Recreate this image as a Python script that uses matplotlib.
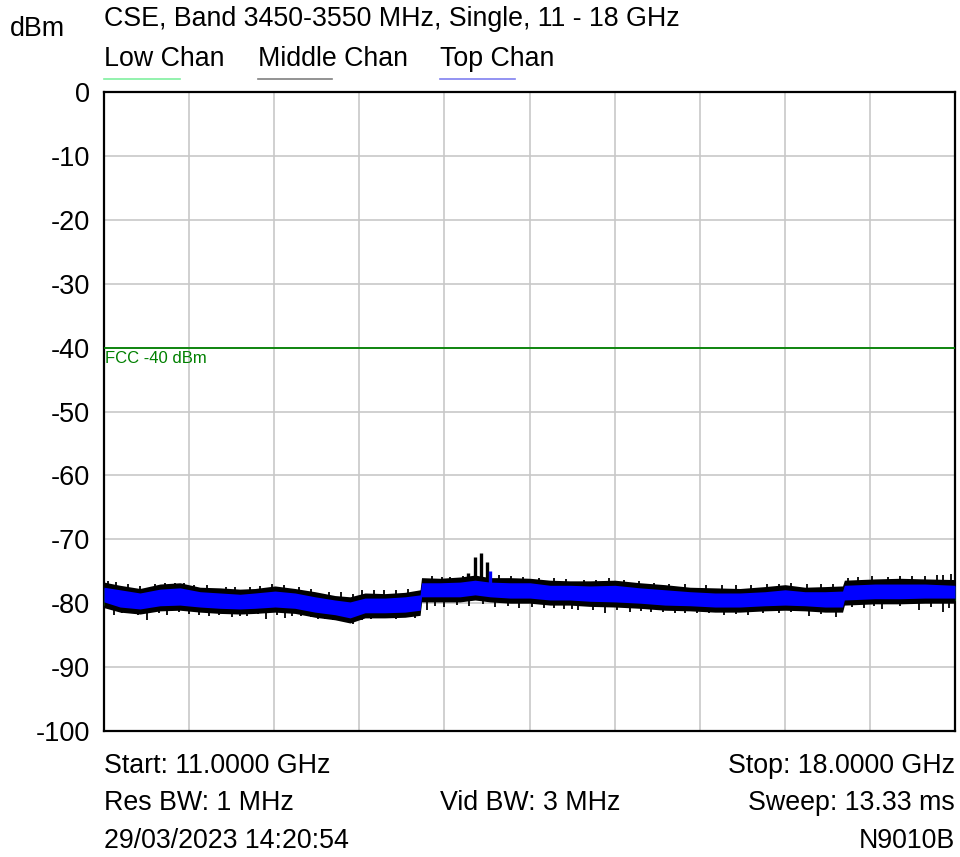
import matplotlib
matplotlib.use('Agg')
import matplotlib.pyplot as plt

plt.rcParams['font.family'] = ['Liberation Sans', 'DejaVu Sans']

# frequency points (GHz)
freq = [11.000, 11.132, 11.296, 11.461, 11.625, 11.790, 11.954, 12.119, 12.242,
        12.407, 12.571, 12.736, 12.900, 13.024, 13.147, 13.311, 13.476, 13.600,
        13.612, 13.764, 13.928, 14.052, 14.175, 14.340, 14.504, 14.669, 14.833,
        14.998, 15.203, 15.409, 15.615, 15.820, 16.026, 16.231, 16.437, 16.602,
        16.766, 16.931, 17.075, 17.090, 17.342, 17.548, 17.753, 18.000]

# Top Chan (blue) band, upper / lower edge in dBm
top_hi = [-77.5, -77.9, -78.4, -77.8, -77.6, -78.2, -78.4, -78.6, -78.4,
          -78.1, -78.4, -79.0, -79.5, -79.8, -79.2, -79.2, -79.0, -78.7,
          -76.8, -76.8, -76.7, -76.4, -76.7, -76.8, -76.8, -77.2, -77.2,
          -77.3, -77.2, -77.6, -77.9, -78.2, -78.4, -78.4, -78.2, -77.9,
          -78.2, -78.2, -78.1, -77.2, -77.0, -77.0, -77.0, -77.2]
top_lo = [-79.8, -80.6, -80.9, -80.4, -80.3, -80.6, -80.8, -80.9, -80.8,
          -80.6, -80.8, -81.4, -81.8, -82.3, -81.5, -81.5, -81.4, -81.1,
          -79.0, -79.0, -79.0, -78.7, -79.0, -79.2, -79.2, -79.5, -79.5,
          -79.7, -79.8, -80.0, -80.3, -80.4, -80.6, -80.6, -80.4, -80.3,
          -80.4, -80.6, -80.6, -79.5, -79.3, -79.3, -79.2, -79.2]

# Middle Chan (black) band, upper / lower edge in dBm
mid_hi = [-76.7, -77.2, -77.7, -77.0, -76.8, -77.5, -77.6, -77.8, -77.7,
          -77.3, -77.7, -78.2, -78.8, -79.0, -78.4, -78.5, -78.3, -77.9,
          -76.0, -76.1, -75.9, -75.6, -76.0, -76.0, -76.1, -76.4, -76.5,
          -76.5, -76.4, -76.8, -77.1, -77.5, -77.6, -77.7, -77.4, -77.1,
          -77.5, -77.4, -77.3, -76.4, -76.2, -76.1, -76.2, -76.3]
mid_lo = [-80.7, -81.4, -81.7, -81.2, -81.1, -81.4, -81.6, -81.7, -81.6,
          -81.4, -81.6, -82.2, -82.6, -83.1, -82.3, -82.3, -82.2, -81.9,
          -79.8, -79.8, -79.8, -79.5, -79.8, -80.0, -80.0, -80.3, -80.3,
          -80.5, -80.6, -80.8, -81.1, -81.2, -81.4, -81.4, -81.2, -81.1,
          -81.2, -81.4, -81.4, -80.3, -80.1, -80.1, -80.0, -80.0]

# Low Chan (green), mostly hidden under the others
low_hi = [-77.7, -78.1, -78.6, -78.0, -77.8, -78.4, -78.6, -78.8, -78.6,
          -78.3, -78.6, -79.2, -79.7, -80.0, -79.4, -79.4, -79.2, -78.9,
          -77.0, -77.0, -76.9, -76.6, -76.9, -77.0, -77.0, -77.4, -77.4,
          -77.5, -77.4, -77.8, -78.1, -78.4, -78.6, -78.6, -78.4, -78.1,
          -78.4, -78.4, -78.3, -77.4, -77.2, -77.2, -77.2, -77.4]
low_lo = [-80.3, -81.0, -81.3, -80.8, -80.7, -81.0, -81.2, -81.3, -81.2,
          -81.0, -81.2, -81.8, -82.2, -82.7, -81.9, -81.9, -81.8, -81.5,
          -79.4, -79.4, -79.4, -79.1, -79.4, -79.6, -79.6, -79.9, -79.9,
          -80.1, -80.2, -80.4, -80.7, -80.8, -81.0, -81.0, -80.8, -80.7,
          -80.8, -81.0, -81.0, -79.9, -79.7, -79.7, -79.6, -79.6]

# downward noise spikes on the Middle Chan trace (GHz, dBm)
down_f = [11.08, 11.22, 11.35, 11.52, 11.70, 11.86, 12.05, 12.18, 12.33, 12.49,
          12.62, 12.70, 12.82, 12.95, 13.05, 13.20, 13.40, 13.56, 13.66, 13.80,
          14.00, 14.22, 14.41, 14.62, 14.78, 14.90, 15.12, 15.33, 15.50, 15.70,
          15.88, 16.10, 16.30, 16.55, 16.80, 17.02, 17.25, 17.40, 17.70, 17.90,
          11.15, 11.28, 11.45, 11.62, 11.78, 11.95, 12.12, 12.27, 12.42, 12.55,
          12.76, 12.88, 13.00, 13.12, 13.28, 13.48, 13.72, 13.90, 14.12, 14.32,
          14.52, 14.70, 14.85, 15.02, 15.22, 15.42, 15.60, 15.78, 15.98, 16.20,
          16.42, 16.65, 16.90, 17.15, 17.33, 17.55, 17.80, 17.95]
down_v = [-81.8, -81.6, -82.6, -81.9, -81.7, -82.0, -82.2, -82.0, -82.4, -82.3,
          -82.0, -82.1, -82.5, -82.8, -83.2, -82.5, -82.4, -82.3, -81.0, -80.6,
          -80.5, -80.6, -80.8, -80.7, -80.9, -81.0, -81.5, -81.4, -81.3, -81.5,
          -81.6, -81.9, -81.8, -81.6, -82.0, -82.1, -80.7, -80.9, -81.0, -81.3,
          -81.5, -81.9, -81.6, -81.4, -81.8, -81.9, -82.0, -81.7, -81.9, -82.0,
          -82.4, -82.6, -82.9, -82.6, -82.3, -82.1, -80.4, -80.3, -80.2, -80.5,
          -80.6, -80.8, -80.9, -81.0, -81.0, -81.2, -81.4, -81.5, -81.6, -81.7,
          -81.6, -81.3, -81.7, -80.6, -80.5, -80.5, -80.6, -80.7]

# upward noise spikes on the Middle Chan trace (GHz, dBm)
up_f = [11.03, 11.20, 11.42, 11.58, 11.74, 12.00, 12.20, 12.38, 12.60, 12.85,
        13.12, 13.30, 13.50, 13.70, 13.85, 14.25, 14.45, 14.70, 14.95, 15.15,
        15.40, 15.65, 15.95, 16.20, 16.45, 16.65, 16.90, 17.20, 17.45, 17.65,
        17.85, 17.97,
        11.10, 11.30, 11.50, 11.66, 11.85, 12.08, 12.28, 12.48, 12.70, 12.95,
        13.05, 13.22, 13.40, 13.78, 13.95, 14.35, 14.58, 14.80, 15.05, 15.28,
        15.52, 15.78, 16.08, 16.32, 16.55, 16.78, 17.00, 17.12, 17.32, 17.55,
        17.75, 17.90]
up_v = [-76.5, -77.0, -77.0, -76.8, -77.1, -77.4, -77.4, -77.0, -77.4, -78.2,
        -77.9, -78.0, -77.8, -75.8, -75.9, -75.6, -75.9, -76.0, -76.3, -76.0,
        -76.6, -77.0, -77.1, -77.2, -77.0, -76.9, -77.0, -75.9, -75.9, -75.7,
        -75.6, -75.5,
        -76.7, -77.3, -76.9, -76.8, -77.2, -77.4, -77.3, -77.2, -77.8, -78.3,
        -78.5, -78.0, -77.9, -75.9, -75.7, -75.8, -76.0, -76.2, -76.3, -76.4,
        -76.8, -77.0, -77.2, -77.2, -77.0, -77.0, -77.0, -76.0, -75.8, -75.8,
        -75.7, -75.6]

# emission peaks near 14 GHz
peak_f = [13.994, 14.052, 14.101, 14.150]
peak_v = [-75.3, -72.8, -72.1, -73.6]
top_peak_f = [14.172]
top_peak_v = [-75.0]

limit = -40
yticks = [0, -10, -20, -30, -40, -50, -60, -70, -80, -90, -100]

fig = plt.figure(figsize=(9.6, 8.57), dpi=100)
ax = fig.add_axes([104/960, 1 - 731/857, 851/960, 639/857])

ax.fill_between(freq, low_lo, low_hi, color='#00e000', lw=0, zorder=3)
ax.fill_between(freq, mid_lo, mid_hi, color='black', lw=0, zorder=4)
ax.vlines(down_f, [v + 1.5 for v in down_v], down_v, color='black', lw=1.3, zorder=4)
ax.vlines(up_f, [v - 1.5 for v in up_v], up_v, color='black', lw=1.3, zorder=4)
ax.vlines(peak_f, [-77.0] * len(peak_f), peak_v, color='black', lw=2.4, zorder=4)
ax.fill_between(freq, top_lo, top_hi, color='#0000ff', lw=0, zorder=5)
ax.vlines(top_peak_f, [-77.0], top_peak_v, color='#0000ff', lw=2.4, zorder=5)

ax.axhline(limit, color='#008000', lw=1.3, zorder=6)
ax.text(11.005, limit - 0.5, 'FCC -40 dBm', color='#008000', fontsize=12,
        va='top', ha='left', family=['Liberation Sans Narrow', 'Liberation Sans'], zorder=7)

ax.set_xlim(11, 18)
ax.set_ylim(-100, 0)
ax.set_xticks([11 + 0.7 * i for i in range(11)])
ax.set_xticklabels([])
ax.set_yticks(yticks)
ax.set_yticklabels([str(v) for v in yticks], fontsize=19.5)
ax.tick_params(length=0, pad=10)
ax.grid(True, color='#c8c8c8', lw=1.2)
ax.set_axisbelow(True)
for s in ax.spines.values():
    s.set_linewidth(1.6)
    s.set_color('black')


def px(x, y):
    return x / 960, 1 - y / 857


fs = 19.3
fig.text(*px(104, 19), 'CSE, Band 3450-3550 MHz, Single, 11 - 18 GHz', fontsize=fs, va='center')
fig.text(*px(10, 29), 'dBm', fontsize=fs, va='center')

legend = [('Low Chan', 104, 180, '#80f0a0'), ('Middle Chan', 258, 332, '#808080'),
          ('Top Chan', 440, 515, '#8080f0')]
for name, x0, x1, c in legend:
    fig.text(*px(x0, 59), name, fontsize=fs, va='center')
    fig.add_artist(plt.Line2D([x0 / 960, x1 / 960], [1 - 79 / 857] * 2, color=c, lw=1.2))

fig.text(*px(104, 766), 'Start: 11.0000 GHz', fontsize=fs, va='center')
fig.text(*px(955, 766), 'Stop: 18.0000 GHz', fontsize=fs, va='center', ha='right')
fig.text(*px(104, 803), 'Res BW: 1 MHz', fontsize=fs, va='center')
fig.text(*px(530, 803), 'Vid BW: 3 MHz', fontsize=fs, va='center', ha='center')
fig.text(*px(955, 803), 'Sweep: 13.33 ms', fontsize=fs, va='center', ha='right')
fig.text(*px(104, 841), '29/03/2023 14:20:54', fontsize=fs, va='center')
fig.text(*px(955, 841), 'N9010B', fontsize=fs, va='center', ha='right')

fig.savefig('out.png', dpi=100)
